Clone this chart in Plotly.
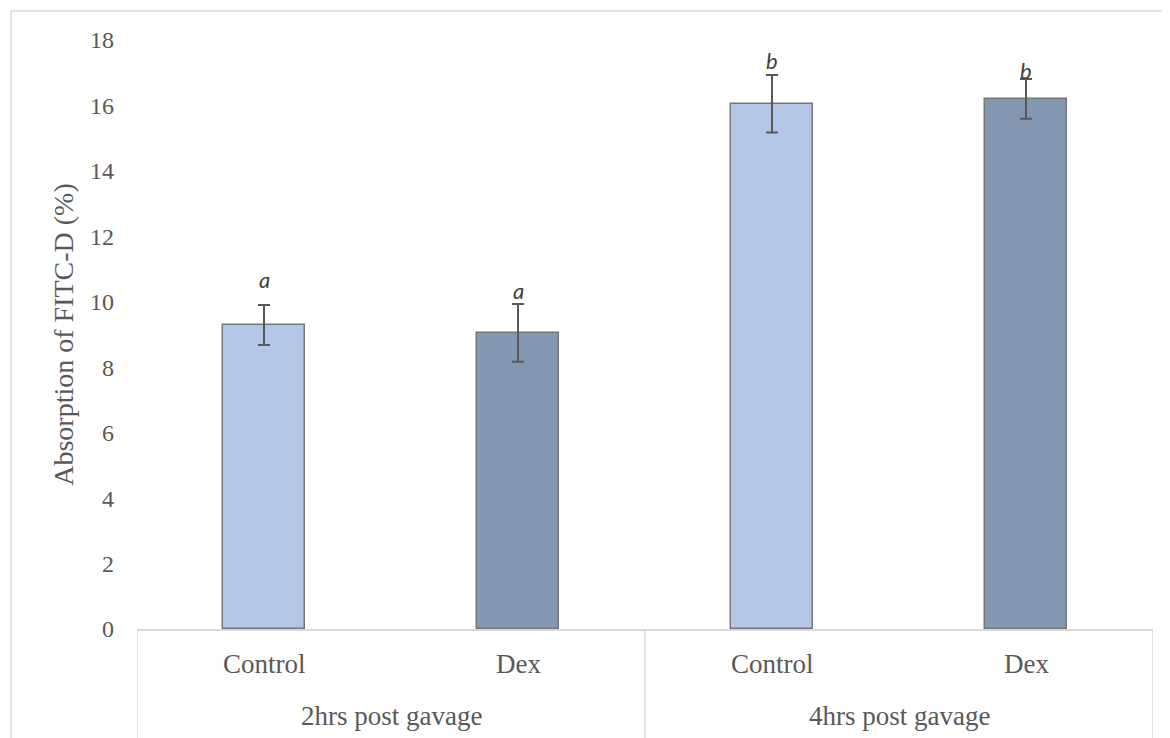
import plotly.graph_objects as go

groups = ["2hrs post gavage", "2hrs post gavage", "4hrs post gavage", "4hrs post gavage"]
conditions = ["Control", "Dex", "Control", "Dex"]
values = [9.29, 9.05, 16.05, 16.20]
errors = [0.61, 0.88, 0.88, 0.61]
letters = ["a", "a", "b", "b"]
group_names = ["2hrs post gavage", "4hrs post gavage"]
y_ticks = [0, 2, 4, 6, 8, 10, 12, 14, 16, 18]

colors = ["#B4C7E7", "#8497B0", "#B4C7E7", "#8497B0"]
letter_shift = [26, 14, 15, 8]

# page body has an 8px margin, so figure coordinates = screen coordinates - 8
OFF = 8
W, H = 1170 - OFF, 738 - OFF
x_left, x_right, y_top, y_axis = 137 - OFF, 1153 - OFF, 40 - OFF, 629 - OFF
L, R, T, B = x_left, W - x_right, y_top, H - y_axis
pw, ph = W - L - R, H - T - B

xs = list(range(len(values)))

fig = go.Figure()
fig.add_trace(go.Bar(
    x=xs, y=values, width=0.323,
    marker=dict(color=colors, line=dict(color="#767676", width=1.5)),
    error_y=dict(type="data", array=errors, visible=True, color="#595959", thickness=2, width=6),
    showlegend=False,
))

serif = "Liberation Serif"
txt = "#595959"

ann = []
for i, (c, v, e, l) in enumerate(zip(conditions, values, errors, letters)):
    ann.append(dict(x=i, y=-35 / ph, xref="x", yref="paper", text=c, showarrow=False,
                    font=dict(family=serif, size=27, color=txt), yanchor="middle"))
    ann.append(dict(x=i, y=v + e, xref="x", yref="y", text="<i>%s</i>" % l, showarrow=False,
                    font=dict(family="Lato", size=22, color="#404040"), yanchor="middle",
                    yshift=letter_shift[i]))
for gi, g in enumerate(group_names):
    idx = [i for i, gg in enumerate(groups) if gg == g]
    cx = sum(idx) / len(idx)
    ann.append(dict(x=cx, y=-87 / ph, xref="x", yref="paper", text=g, showarrow=False,
                    font=dict(family=serif, size=27, color=txt), yanchor="middle"))

grid = "#D9D9D9"
shapes = []
n = len(values)
bounds = [-0.5] + [i + 0.5 for i in range(n - 1) if groups[i] != groups[i + 1]] + [n - 0.5]
for bx in bounds:
    shapes.append(dict(type="line", xref="x", yref="paper", x0=bx, x1=bx, y0=0, y1=-(B + 20) / ph,
                       line=dict(color=grid, width=1.5)))
# outer chart border
bx0 = (11 - OFF - L) / pw
by0 = (y_axis - (11 - OFF)) / ph
shapes.append(dict(type="line", xref="paper", yref="paper",
                   x0=bx0, x1=bx0, y0=by0, y1=-0.3, line=dict(color=grid, width=1.5)))
shapes.append(dict(type="line", xref="paper", yref="paper",
                   x0=bx0, x1=1.1, y0=by0, y1=by0, line=dict(color=grid, width=1.5)))

fig.update_layout(
    width=W, height=H,
    margin=dict(l=L, r=R, t=T, b=B),
    paper_bgcolor="white", plot_bgcolor="white",
    bargap=0,
    xaxis=dict(range=[-0.5, n - 0.5], showticklabels=False, showgrid=False, zeroline=False,
               showline=True, linecolor=grid, linewidth=1.5, fixedrange=True),
    yaxis=dict(range=[0, 18], tickvals=y_ticks, showgrid=False, zeroline=False, showline=False,
               tickfont=dict(family=serif, size=24, color=txt), ticklabelstandoff=22,
               title=dict(text="Absorption of FITC-D (%)", font=dict(family=serif, size=28, color=txt),
                          standoff=8)),
    annotations=ann,
    shapes=shapes,
)

fig.write_html("out.html")
